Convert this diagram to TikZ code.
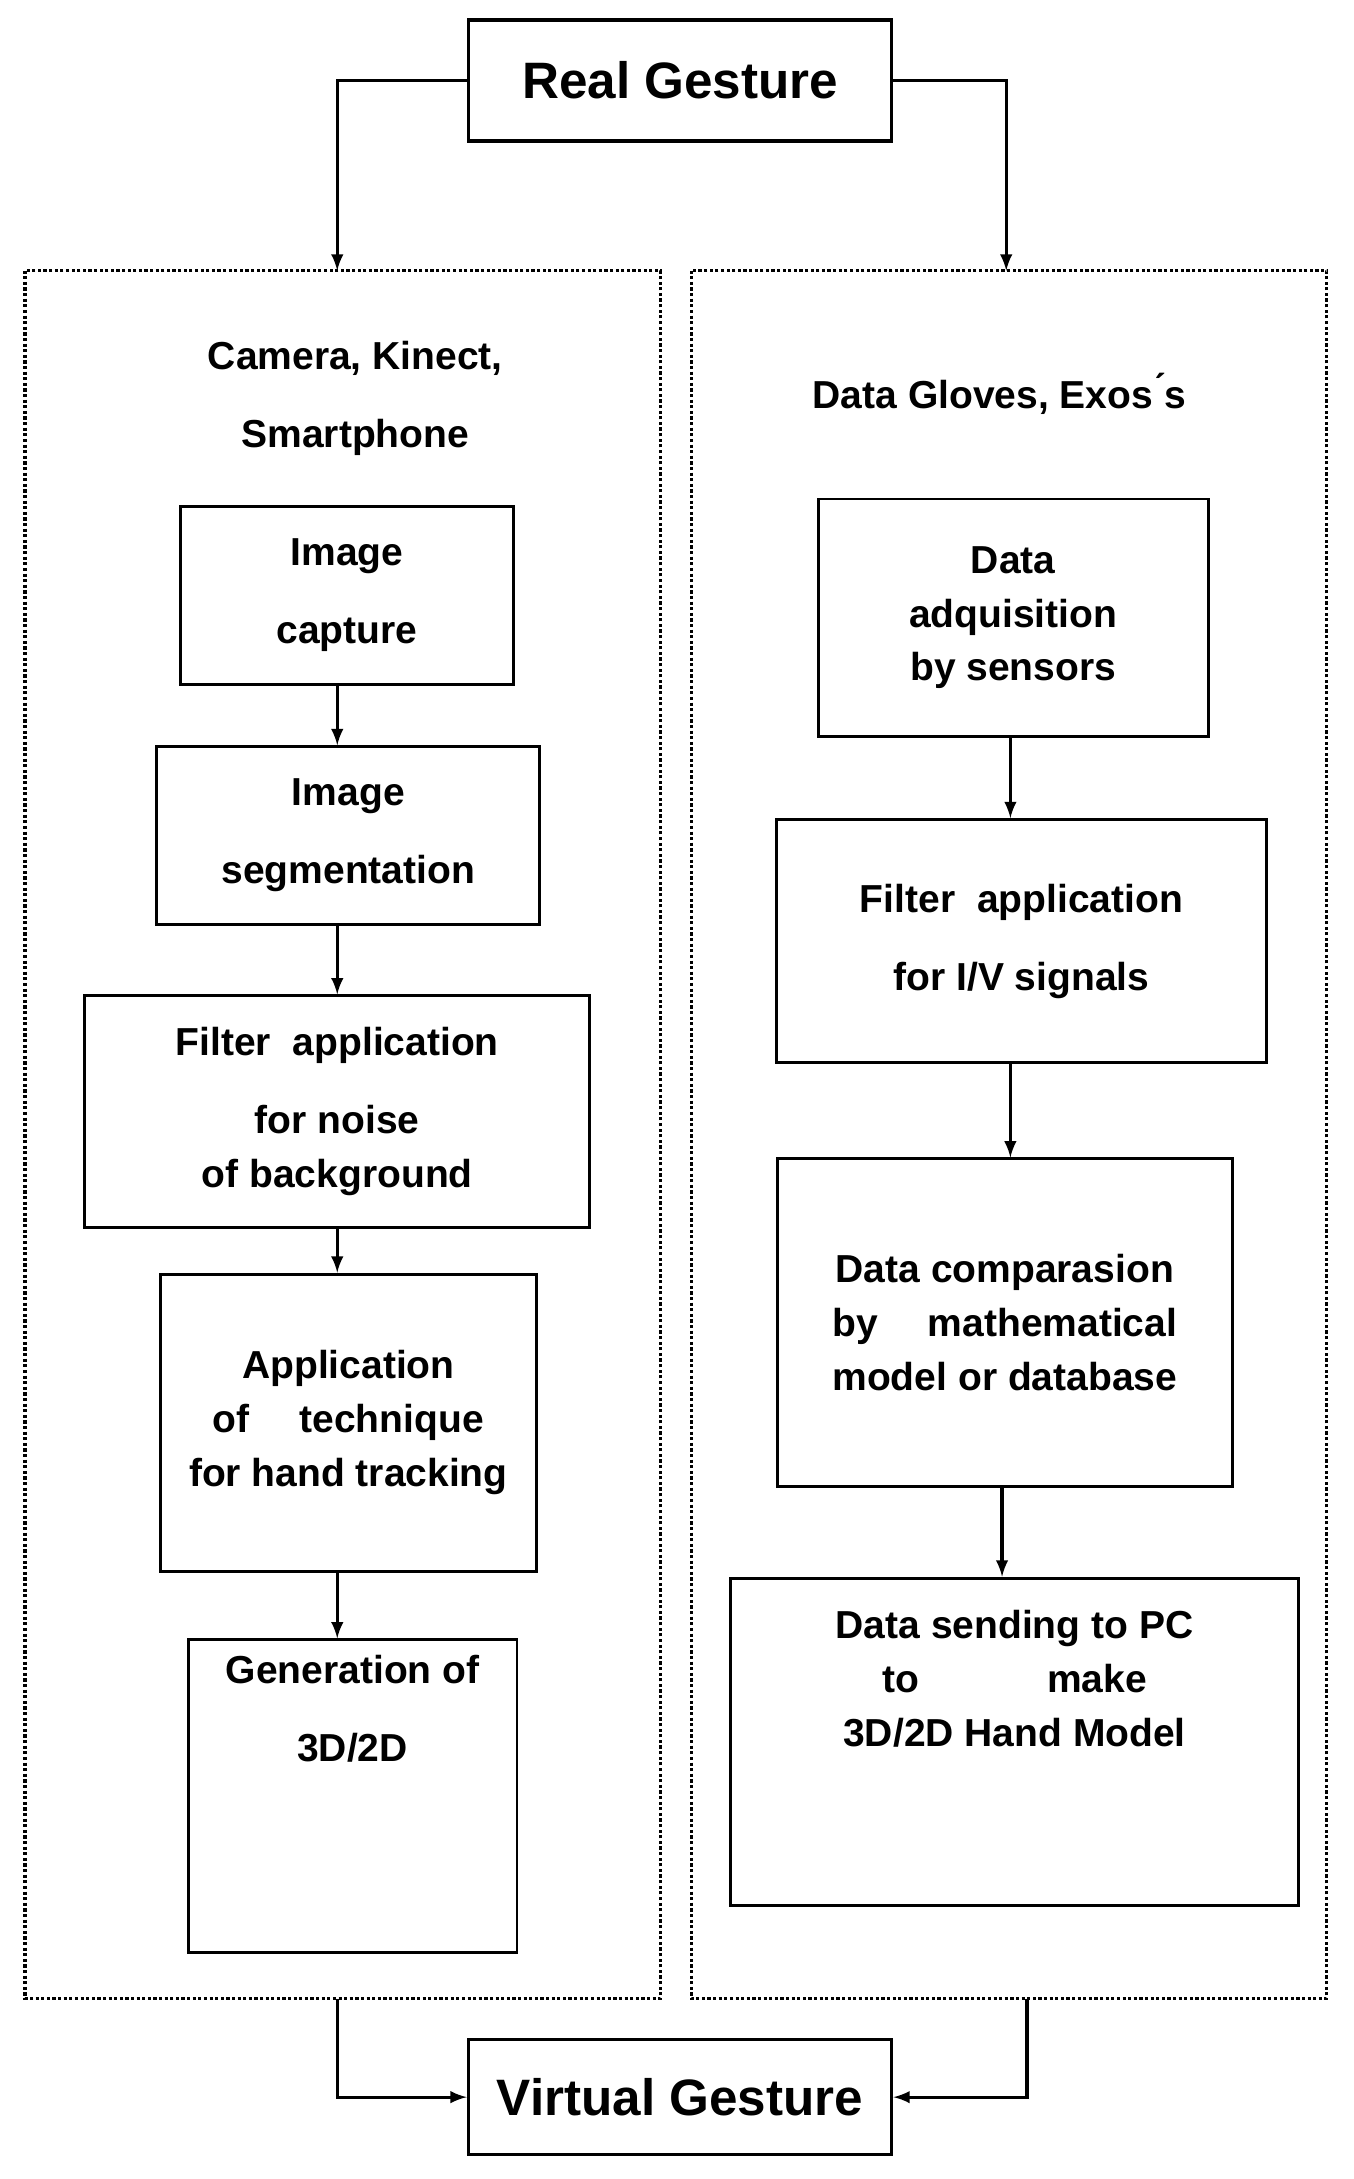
\documentclass[tikz,border=0pt]{standalone}
\usepackage{fontspec}
\setmainfont{Liberation Sans}
\usetikzlibrary{arrows}
\begin{document}
\begin{tikzpicture}[x=0.02cm, y=-0.02cm, line width=1.3pt, >=latex,
  box/.style={draw, line width=1.2pt, align=center, inner sep=2pt,
    font=\fontsize{16}{22}\selectfont\bfseries},
  head/.style={align=center, font=\fontsize{16}{32}\selectfont\bfseries},
  big/.style={draw, line width=1.4pt, font=\fontsize{21}{26}\selectfont\bfseries},
  group/.style={draw, densely dotted, line width=1.3pt}]

\useasboundingbox (0,0) rectangle (975,1570);

% frames
\draw[group] (18,195) rectangle (476,1440);
\draw[group] (498,195) rectangle (956,1440);
\coordinate (lx) at (243,0);
\coordinate (rx) at (728,0);

\node[big, minimum width=6.1cm, minimum height=1.74cm] (real) at (490,58) {Real Gesture};
\node[big, minimum width=6.1cm, minimum height=1.66cm] (virt) at (490,1511) {Virtual Gesture};

% left column
\node[head] (cam) at (256,287) {Camera, Kinect,\\Smartphone};
\node[box, minimum width=4.8cm, minimum height=2.56cm, font=\fontsize{16}{32}\selectfont\bfseries] (cap) at (250,429) {Image\\capture};
\node[box, minimum width=5.52cm, minimum height=2.56cm, font=\fontsize{16}{32}\selectfont\bfseries] (seg) at (251,602) {Image\\segmentation};
\node[box, minimum width=7.28cm, minimum height=3.34cm] (filt) at (243,801) {Filter \ application\\[10pt]for noise\\of background};
\node[box, minimum width=5.42cm, minimum height=4.28cm] (app) at (251,1025) {Application\\of \quad technique\\for hand tracking};
\node[box, minimum width=4.74cm, minimum height=4.5cm, font=\fontsize{16}{32}\selectfont\bfseries] (gen) at (254,1294) {Generation of\\3D/2D\\[40pt]};

% right column
\node[head] (glov) at (720,284) {Data Gloves, Exos\'{}s};
\node[box, minimum width=5.62cm, minimum height=3.42cm] (acq) at (730,445) {Data\\adquisition\\by sensors};
\node[box, minimum width=7.06cm, minimum height=3.5cm, font=\fontsize{16}{32}\selectfont\bfseries] (fil2) at (736,678) {Filter \ application\\for I/V signals};
\node[box, minimum width=6.56cm, minimum height=4.72cm] (cmp) at (724,953) {Data comparasion\\by \quad mathematical\\model or database};
\node[box, minimum width=8.18cm, minimum height=4.72cm] (send) at (731,1255) {Data sending to PC\\to \qquad\quad make\\3D/2D Hand Model\\[30pt]};

% connectors
\draw[->] (real.west) -| (243,195);
\draw[->] (real.east) -| (725,195);
\draw[->] (cap.south -| lx) -- (seg.north -| lx);
\draw[->] (seg.south -| lx) -- (filt.north -| lx);
\draw[->] (filt.south -| lx) -- (app.north -| lx);
\draw[->] (app.south -| lx) -- (gen.north -| lx);
\draw[->] (acq.south -| rx) -- (fil2.north -| rx);
\draw[->] (fil2.south -| rx) -- (cmp.north -| rx);
\draw[->] (cmp.south -| 722,0) -- (send.north -| 722,0);
\draw[->] (243,1440) |- (virt.west);
\draw[->] (740,1440) |- (virt.east);

\end{tikzpicture}
\end{document}
